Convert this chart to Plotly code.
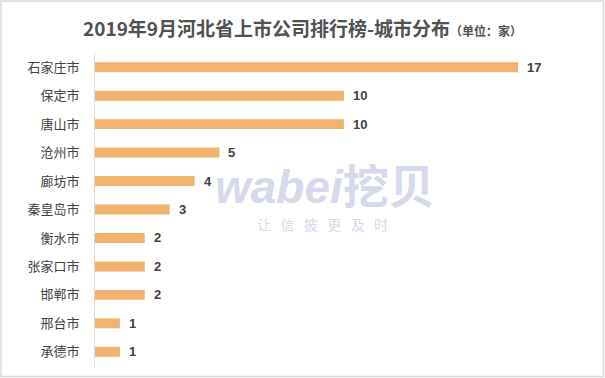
import plotly.graph_objects as go

cities = ["石家庄市", "保定市", "唐山市", "沧州市", "廊坊市", "秦皇岛市", "衡水市", "张家口市", "邯郸市", "邢台市", "承德市"]
counts = [17, 10, 10, 5, 4, 3, 2, 2, 2, 1, 1]

W, H = 605, 378
ml, mr, mt, mb = 95, 62, 53, 12
font_cjk = "Noto Sans CJK SC, Microsoft YaHei, sans-serif"

fig = go.Figure(go.Bar(
    x=counts, y=cities, orientation="h",
    marker=dict(color="#F1B36E", line=dict(width=0)),
    hoverinfo="skip",
))

for c, v in zip(cities, counts):
    fig.add_annotation(x=v, y=c, text=str(v), showarrow=False, xanchor="left",
                       xshift=7, font=dict(size=13, color="#404040", family="Liberation Sans, Arial", weight="bold"))

pw = W - ml - mr
ph = H - mt - mb
def px(x):
    return (x - ml) / pw
def py(y):
    return 1 - (y - mt) / ph

# watermark
fig.add_annotation(xref="paper", yref="paper", x=px(325), y=py(187), yanchor="middle",
                   text="<i><b>wabei</b></i><b>挖贝</b>",
                   showarrow=False, font=dict(size=46, color="#D6D9EB", family="Liberation Sans, Noto Sans CJK SC"))
sp = "&nbsp;&nbsp;&nbsp;"
fig.add_annotation(xref="paper", yref="paper", x=px(322), y=py(224), yanchor="middle",
                   text=sp.join(list("让信披更及时")),
                   showarrow=False, font=dict(size=14, color="#D6D9EB", family=font_cjk))

# title
fig.add_annotation(xref="paper", yref="paper", x=px(302), y=py(28), yanchor="middle",
                   text="<b>2019年9月河北省上市公司排行榜-城市分布</b><span style='font-size:12px'><b>（单位：家）</b></span>",
                   showarrow=False, font=dict(size=19, color="#505050", family=font_cjk))

# border
fig.add_shape(type="rect", xref="paper", yref="paper", x0=px(1), x1=px(603.5), y0=py(376.5), y1=py(1),
              line=dict(color="#D9D9D9", width=1.5), fillcolor="rgba(0,0,0,0)", layer="below")

fig.update_layout(
    width=W, height=H,
    margin=dict(l=ml, r=mr, t=mt, b=mb),
    paper_bgcolor="white", plot_bgcolor="white",
    bargap=0.65, showlegend=False,
    xaxis=dict(range=[0, 18], visible=False, fixedrange=True),
    yaxis=dict(autorange="reversed", showline=True, linecolor="#D9D9D9", linewidth=1,
               ticks="", ticklabelstandoff=12, showgrid=False, fixedrange=True,
               tickfont=dict(size=13, color="#404040", family=font_cjk)),
)

fig.write_html("out.html", config={"displayModeBar": False},
               post_script="document.body.style.margin='0';")
